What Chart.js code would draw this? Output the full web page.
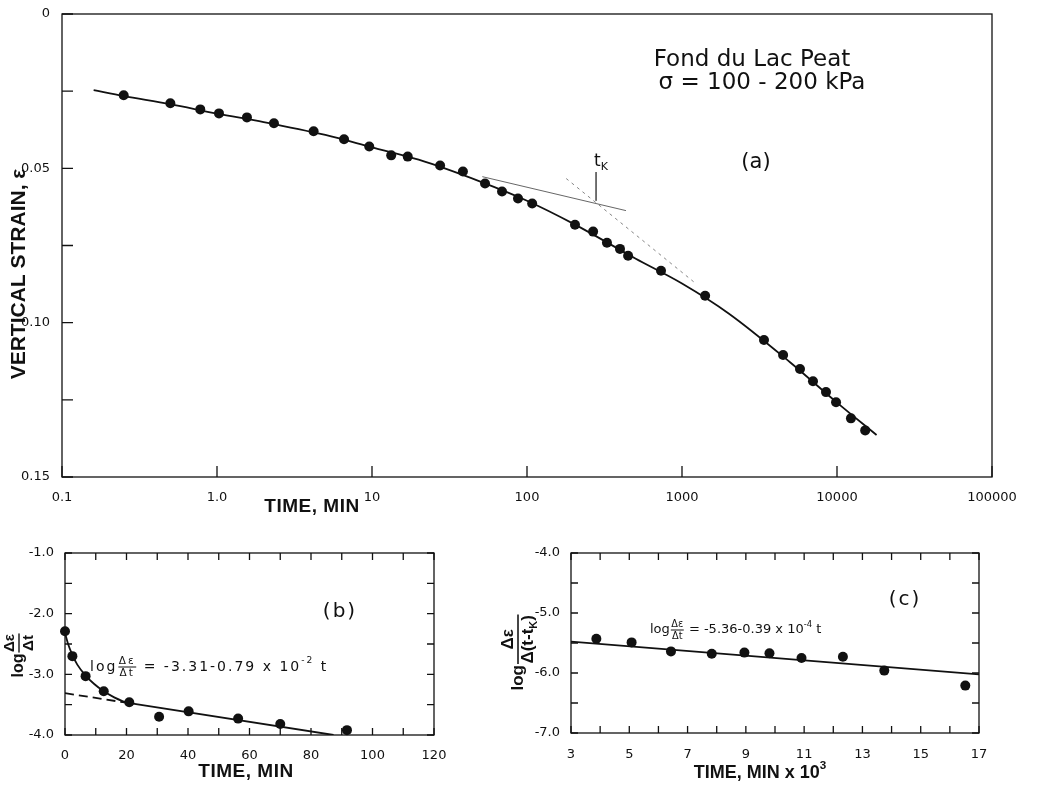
<!DOCTYPE html>
<html>
<head>
<meta charset="utf-8">
<script src="https://cdn.jsdelivr.net/npm/chart.js@4.4.1/dist/chart.umd.min.js"></script>
<style>
  body { margin: 0; background: #fff; }
  #fig { position: relative; width: 1040px; height: 787px; }
  #fig canvas { position: absolute; }
</style>
</head>
<body>
<div id="fig">
  <canvas id="chartA" width="1040" height="520" style="left:0;top:0"></canvas>
  <canvas id="chartB" width="480" height="267" style="left:0;top:520px"></canvas>
  <canvas id="chartC" width="560" height="267" style="left:480px;top:520px"></canvas>
</div>
<script>
// (a) vertical strain vs. log time
const timeA = [0.25, 0.50, 0.78, 1.03, 1.56, 2.33, 4.2, 6.6, 9.6, 13.3, 17, 27.5, 38.6, 53.6, 69, 87.5,
  108, 204, 267, 328, 398, 449, 732, 1410, 3380, 4490, 5770, 7000, 8490, 9860, 12300, 15200];
const strainA = [0.0263, 0.0289, 0.0309, 0.0322, 0.0335, 0.0354, 0.0380, 0.0406, 0.0429, 0.0458, 0.0462,
  0.0491, 0.0510, 0.0549, 0.0575, 0.0598, 0.0614, 0.0683, 0.0705, 0.0741, 0.0761, 0.0783, 0.0832, 0.0913,
  0.1056, 0.1105, 0.1150, 0.1190, 0.1225, 0.1258, 0.1310, 0.1349];
const fitTimeA = [0.16, 0.25, 0.5, 1, 2, 5, 10, 20, 50, 100, 200, 500, 1000, 2000, 5000, 10000, 18000];
const fitStrainA = [0.0247, 0.0266, 0.0292, 0.0323, 0.0350, 0.0392, 0.0432, 0.0472, 0.0543, 0.0605,
  0.0680, 0.0792, 0.0873, 0.0970, 0.1129, 0.1259, 0.1364];
const tangentTimeA = [51.5, 435];
const tangentStrainA = [0.0527, 0.0637];
const secantTimeA = [179, 1213];
const secantStrainA = [0.0533, 0.0871];
const tK = 279;
const tKStrain = [0.0512, 0.0605];
const timeTicksA = [0.1, 1, 10, 100, 1000, 10000, 100000];
const timeLabelsA = ['0.1', '1.0', '10', '100', '1000', '10000', '100000'];
const strainTicksA = [0, 0.025, 0.05, 0.075, 0.1, 0.125, 0.15];
const strainLabelsA = ['0', '', '0.05', '', '0.10', '', '0.15'];

// (b) log strain rate, early part
const timeB = [0, 2.4, 6.7, 12.6, 20.9, 30.6, 40.2, 56.3, 70.0, 91.7];
const rateB = [-2.29, -2.70, -3.03, -3.28, -3.46, -3.70, -3.61, -3.73, -3.82, -3.92];
const curveTimeB = [0, 1, 2.4, 4, 6.7, 9.5, 12.6, 16, 20];
const curveRateB = [-2.32, -2.50, -2.68, -2.84, -3.02, -3.16, -3.28, -3.38, -3.47];
const interceptB = -3.31;
const slopeB = -0.79e-2;
const timeTicksB = [0, 10, 20, 30, 40, 50, 60, 70, 80, 90, 100, 110, 120];
const timeLabelsB = ['0', '', '20', '', '40', '', '60', '', '80', '', '100', '', '120'];
const rateTicksB = [-4, -3.5, -3, -2.5, -2, -1.5, -1];
const rateLabelsB = ['-4.0', '', '-3.0', '', '-2.0', '', '-1.0'];

// (c) log strain rate after t_K, time in thousands of minutes
const timeC = [3.87, 5.08, 6.43, 7.83, 8.95, 9.81, 10.91, 12.33, 13.75, 16.53];
const rateC = [-5.43, -5.49, -5.64, -5.68, -5.66, -5.67, -5.75, -5.73, -5.96, -6.21];
const interceptC = -5.36;
const slopeC = -0.39e-4;
const timeTicksC = [3, 4, 5, 6, 7, 8, 9, 10, 11, 12, 13, 14, 15, 16, 17];
const timeLabelsC = ['3', '', '5', '', '7', '', '9', '', '11', '', '13', '', '15', '', '17'];
const rateTicksC = [-7, -6.5, -6, -5.5, -5, -4.5, -4];
const rateLabelsC = ['-7.0', '', '-6.0', '', '-5.0', '', '-4.0'];

const INK = '#111';
const SANS = '"DejaVu Sans", sans-serif';
const BOLD = '"Liberation Sans", Arial, sans-serif';

const xy = (xs, ys) => xs.map((x, i) => ({ x, y: ys[i] }));

// frame around the plot area with ticks pointing inwards
const frameTicks = {
  id: 'frameTicks',
  afterDatasetsDraw(chart, args, opts) {
    const { ctx, chartArea: a, scales: { x, y } } = chart;
    const len = opts.tickLength || 8;
    ctx.save();
    ctx.strokeStyle = INK;
    ctx.lineWidth = 1.3;
    ctx.strokeRect(a.left, a.top, a.right - a.left, a.bottom - a.top);
    ctx.beginPath();
    x.ticks.forEach(t => {
      const px = x.getPixelForValue(t.value);
      ctx.moveTo(px, a.bottom); ctx.lineTo(px, a.bottom - len);
      if (opts.mirror) { ctx.moveTo(px, a.top); ctx.lineTo(px, a.top + len); }
    });
    y.ticks.forEach(t => {
      const py = y.getPixelForValue(t.value);
      ctx.moveTo(a.left, py); ctx.lineTo(a.left + len, py);
      if (opts.mirror) { ctx.moveTo(a.right, py); ctx.lineTo(a.right - len, py); }
    });
    ctx.stroke();
    ctx.restore();
  }
};

// text runs with fractions, superscripts and subscripts
function partsWidth(ctx, parts, size, font) {
  let w = 0;
  for (const p of parts) {
    if (p.frac) {
      const s = size * p.scale;
      w += Math.max(partsWidth(ctx, p.frac[0], s, font), partsWidth(ctx, p.frac[1], s, font)) + 3;
    } else {
      const small = p.sup !== undefined || p.sub !== undefined;
      ctx.font = `${font.weight} ${small ? size * 0.65 : size}px ${font.family}`;
      w += ctx.measureText(p.sup ?? p.sub ?? p.text).width;
    }
  }
  return w;
}

function drawParts(ctx, parts, x, y, size, font) {
  let cx = x;
  ctx.textBaseline = 'middle';
  ctx.textAlign = 'left';
  for (const p of parts) {
    if (p.frac) {
      const s = size * p.scale;
      const wn = partsWidth(ctx, p.frac[0], s, font);
      const wd = partsWidth(ctx, p.frac[1], s, font);
      const w = Math.max(wn, wd) + 3;
      drawParts(ctx, p.frac[0], cx + (w - wn) / 2, y - s * 0.58, s, font);
      drawParts(ctx, p.frac[1], cx + (w - wd) / 2, y + s * 0.62, s, font);
      const lw = Math.max(1, s / 11);
      ctx.fillRect(cx + 1, y - lw / 2, w - 2, lw);
      cx += w;
    } else if (p.sup !== undefined) {
      ctx.font = `${font.weight} ${size * 0.65}px ${font.family}`;
      ctx.fillText(p.sup, cx, y - size * 0.42);
      cx += ctx.measureText(p.sup).width;
    } else if (p.sub !== undefined) {
      ctx.font = `${font.weight} ${size * 0.65}px ${font.family}`;
      ctx.fillText(p.sub, cx, y + size * 0.32);
      cx += ctx.measureText(p.sub).width;
    } else {
      ctx.font = `${font.weight} ${size}px ${font.family}`;
      ctx.fillText(p.text, cx, y);
      cx += ctx.measureText(p.text).width;
    }
  }
}

function label(ctx, parts, cx, cy, size, opt = {}) {
  const font = { weight: opt.bold ? 'bold' : 'normal', family: opt.bold ? BOLD : SANS };
  ctx.save();
  ctx.fillStyle = INK;
  ctx.letterSpacing = (opt.spacing || 0) + 'px';
  ctx.translate(cx, cy);
  if (opt.vertical) ctx.rotate(-Math.PI / 2);
  const w = partsWidth(ctx, parts, size, font);
  drawParts(ctx, parts, opt.left ? 0 : -w / 2, 0, size, font);
  ctx.restore();
}

function scaleOpts(ticks, labels, extra) {
  return Object.assign({
    afterBuildTicks: s => { s.ticks = ticks.map(v => ({ value: v })); },
    grid: { display: false },
    border: { display: false },
    ticks: {
      autoSkip: false, maxRotation: 0, color: INK,
      font: { family: SANS, size: 13 },
      callback: (v, i) => labels[i]
    }
  }, extra);
}

function baseOptions(padding, scales, frame) {
  return {
    responsive: false,
    devicePixelRatio: 1,
    animation: false,
    layout: { padding },
    scales,
    plugins: { legend: { display: false }, tooltip: { enabled: false }, frameTicks: frame }
  };
}

const dots = (data, r) => ({
  data, pointRadius: r, pointBackgroundColor: INK, pointBorderWidth: 0, showLine: false, clip: false
});
const line = (data, width, extra) => Object.assign({
  data, showLine: true, pointRadius: 0, borderColor: INK, borderWidth: width, fill: false
}, extra);

// ---- (a) ----
const xA = scaleOpts(timeTicksA, timeLabelsA, {
  type: 'logarithmic', min: 0.1, max: 100000, afterFit: s => { s.height = 43; }
});
xA.ticks.padding = 5;
const yA = scaleOpts(strainTicksA, strainLabelsA, {
  type: 'linear', reverse: true, min: 0, max: 0.15, afterFit: s => { s.width = 62; }
});
yA.ticks.padding = 4;

new Chart(document.getElementById('chartA'), {
  type: 'scatter',
  data: {
    datasets: [
      dots(xy(timeA, strainA), 5),
      line(xy(fitTimeA, fitStrainA), 1.8, { cubicInterpolationMode: 'monotone' }),
      line(xy(tangentTimeA, tangentStrainA), 0.9, { borderColor: '#555' }),
      line(xy(secantTimeA, secantStrainA), 0.9, { borderColor: '#777', borderDash: [3, 4] }),
      line([{ x: tK, y: tKStrain[0] }, { x: tK, y: tKStrain[1] }], 0.9, { borderColor: '#555' })
    ]
  },
  options: baseOptions({ top: 14, right: 48, left: 0, bottom: 0 }, { x: xA, y: yA }, { tickLength: 11 }),
  plugins: [frameTicks, {
    id: 'textA',
    afterDraw(chart) {
      const { ctx, scales: { x, y } } = chart;
      label(ctx, [{ text: 'VERTICAL STRAIN, ε' }], 19, 274, 21, { bold: true, vertical: true });
      label(ctx, [{ text: 'TIME, MIN' }], 312, 507, 19, { bold: true, spacing: 0.5 });
      label(ctx, [{ text: 'Fond du Lac Peat' }], 752, 60, 23);
      label(ctx, [{ text: 'σ = 100 - 200 kPa' }], 762, 83, 23);
      label(ctx, [{ text: '(a)' }], 756, 163, 21);
      label(ctx, [{ text: 't' }, { sub: 'K' }], x.getPixelForValue(tK) + 5, y.getPixelForValue(tKStrain[0]) - 10, 17);
    }
  }]
});

// ---- (b) ----
const xB = scaleOpts(timeTicksB, timeLabelsB, {
  type: 'linear', min: 0, max: 120, afterFit: s => { s.height = 52; }
});
xB.ticks.padding = 5;
const yB = scaleOpts(rateTicksB, rateLabelsB, {
  type: 'linear', min: -4, max: -1, afterFit: s => { s.width = 65; }
});
yB.ticks.padding = 3;
const rateLineB = t => ({ x: t, y: interceptB + slopeB * t });
const floorB = (-4 - interceptB) / slopeB;

new Chart(document.getElementById('chartB'), {
  type: 'scatter',
  data: {
    datasets: [
      dots(xy(timeB, rateB), 5),
      line(xy(curveTimeB, curveRateB), 1.8, { cubicInterpolationMode: 'monotone' }),
      line([rateLineB(20), rateLineB(floorB)], 1.8),
      line([rateLineB(0), rateLineB(20)], 1.8, { borderDash: [9, 5] })
    ]
  },
  options: baseOptions({ top: 33, right: 46, left: 0, bottom: 0 }, { x: xB, y: yB }, { tickLength: 7, mirror: true }),
  plugins: [frameTicks, {
    id: 'textB',
    afterDraw(chart) {
      const ctx = chart.ctx;
      label(ctx, [{ text: 'log' }, { frac: [[{ text: 'Δε' }], [{ text: 'Δt' }]], scale: 0.95 }], 19, 135, 16,
        { bold: true, vertical: true });
      label(ctx, [{ text: 'TIME, MIN' }], 246, 252, 19, { bold: true, spacing: 0.5 });
      label(ctx, [{ text: '(b)' }], 340, 92, 20, { spacing: 2 });
      label(ctx, [{ text: 'log' }, { frac: [[{ text: 'Δε' }], [{ text: 'Δt' }]], scale: 0.75 },
        { text: ' = -3.31-0.79 x 10' }, { sup: '-2' }, { text: ' t' }], 90, 147, 14, { left: true, spacing: 2 });
    }
  }]
});

// ---- (c) ----
const xC = scaleOpts(timeTicksC, timeLabelsC, {
  type: 'linear', min: 3, max: 17, afterFit: s => { s.height = 54; }
});
xC.ticks.padding = 6;
const yC = scaleOpts(rateTicksC, rateLabelsC, {
  type: 'linear', min: -7, max: -4, afterFit: s => { s.width = 91; }
});
yC.ticks.padding = 3;
const rateLineC = t => ({ x: t, y: interceptC + slopeC * t * 1000 });

new Chart(document.getElementById('chartC'), {
  type: 'scatter',
  data: {
    datasets: [
      dots(xy(timeC, rateC), 5),
      line([rateLineC(3), rateLineC(17)], 1.6)
    ]
  },
  options: baseOptions({ top: 33, right: 61, left: 0, bottom: 0 }, { x: xC, y: yC }, { tickLength: 7, mirror: true }),
  plugins: [frameTicks, {
    id: 'textC',
    afterDraw(chart) {
      const ctx = chart.ctx;
      label(ctx, [{ text: 'log' }, {
        frac: [[{ text: 'Δε' }], [{ text: 'Δ(t-t' }, { sub: 'K' }, { text: ')' }]], scale: 1
      }], 38, 132, 17, { bold: true, vertical: true });
      label(ctx, [{ text: 'TIME, MIN x 10' }, { sup: '3' }], 280, 253, 18, { bold: true });
      label(ctx, [{ text: '(c)' }], 425, 80, 20, { spacing: 2 });
      label(ctx, [{ text: 'log' }, { frac: [[{ text: 'Δε' }], [{ text: 'Δt' }]], scale: 0.75 },
        { text: ' = -5.36-0.39 x 10' }, { sup: '-4' }, { text: ' t' }], 170, 110, 13, { left: true });
    }
  }]
});
</script>
</body>
</html>
